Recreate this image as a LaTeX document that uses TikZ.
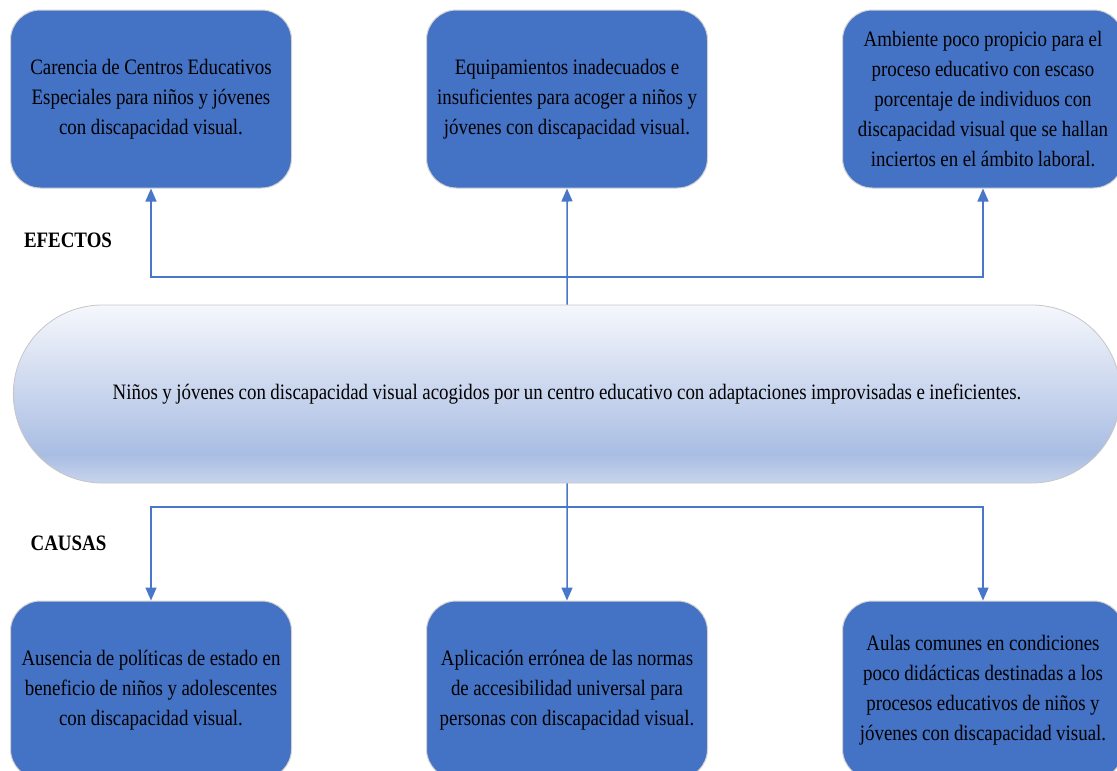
\documentclass[tikz,border=0pt]{standalone}
\usepackage{fontspec}
\setmainfont{Liberation Serif}[FakeStretch=0.86, WordSpace=0.95]
\usetikzlibrary{arrows.meta, positioning, shapes.misc}
\definecolor{cajaazul}{RGB}{68,114,196}
\definecolor{lineaazul}{RGB}{72,118,200}
\definecolor{centroalto}{RGB}{245,247,252}
\definecolor{centromedio}{RGB}{169,189,227}
\definecolor{centrobajo}{RGB}{200,212,236}
\pgfdeclareverticalshading{centroshade}{100bp}{color(0bp)=(centrobajo); color(25bp)=(centrobajo); color(33bp)=(centromedio); color(75bp)=(centroalto); color(100bp)=(centroalto)}

\begin{document}
\begin{tikzpicture}[x=1pt, y=-1pt,
  caja/.style={rectangle, draw=gray!35, line width=1pt, fill=cajaazul, rounded corners=30pt, minimum width=281pt, minimum height=178pt, align=center, font=\fontsize{22}{30}\selectfont},
  centro/.style={rounded rectangle, draw=gray!45, line width=0.8pt, shading=centroshade, minimum width=1114pt, minimum height=178pt, font=\fontsize{22}{30}\selectfont},
  titulo/.style={font=\fontsize{22}{30}\selectfont\bfseries},
  flecha/.style={draw=lineaazul, line width=1.5pt, -{Triangle[width=11pt,length=13pt]}}
]
  \clip (0,0) rectangle (1117,771);

  % Efectos
  \node[caja] (efecto1) at (151,99) {Carencia de Centros Educativos\\ Especiales para niños y jóvenes\\ con discapacidad visual.};
  \node[caja] (efecto2) at (567,99) {Equipamientos inadecuados e\\ insuficientes para acoger a niños y\\ jóvenes con discapacidad visual.};
  \node[caja] (efecto3) at (983,99) {Ambiente poco propicio para el\\ proceso educativo con escaso\\ porcentaje de individuos con\\ discapacidad visual que se hallan\\ inciertos en el ámbito laboral.};
  \node[titulo] (efectos) at (68,240) {EFECTOS};

  % Problema central
  \node[centro] (problema) at (567,394) {Niños y jóvenes con discapacidad visual acogidos por un centro educativo con adaptaciones improvisadas e ineficientes.};

  % Causas
  \node[titulo] (causas) at (68.5,543) {CAUSAS};
  \node[caja] (causa1) at (151,690) {Ausencia de políticas de estado en\\ beneficio de niños y adolescentes\\ con discapacidad visual.};
  \node[caja] (causa2) at (567,690) {Aplicación errónea de las normas\\ de accesibilidad universal para\\ personas con discapacidad visual.};
  \node[caja] (causa3) at (983,690) {Aulas comunes en condiciones\\ poco didácticas destinadas a los\\ procesos educativos de niños y\\ jóvenes con discapacidad visual.};

  % Conectores
  \coordinate (ejunta) at (567,277);
  \coordinate (cjunta) at (567,507);
  \draw[flecha] (problema) -- (efecto2);
  \draw[flecha] (ejunta) -| (efecto1);
  \draw[flecha] (ejunta) -| (efecto3);
  \draw[flecha] (problema) -- (causa2);
  \draw[flecha] (cjunta) -| (causa1);
  \draw[flecha] (cjunta) -| (causa3);
\end{tikzpicture}
\end{document}
